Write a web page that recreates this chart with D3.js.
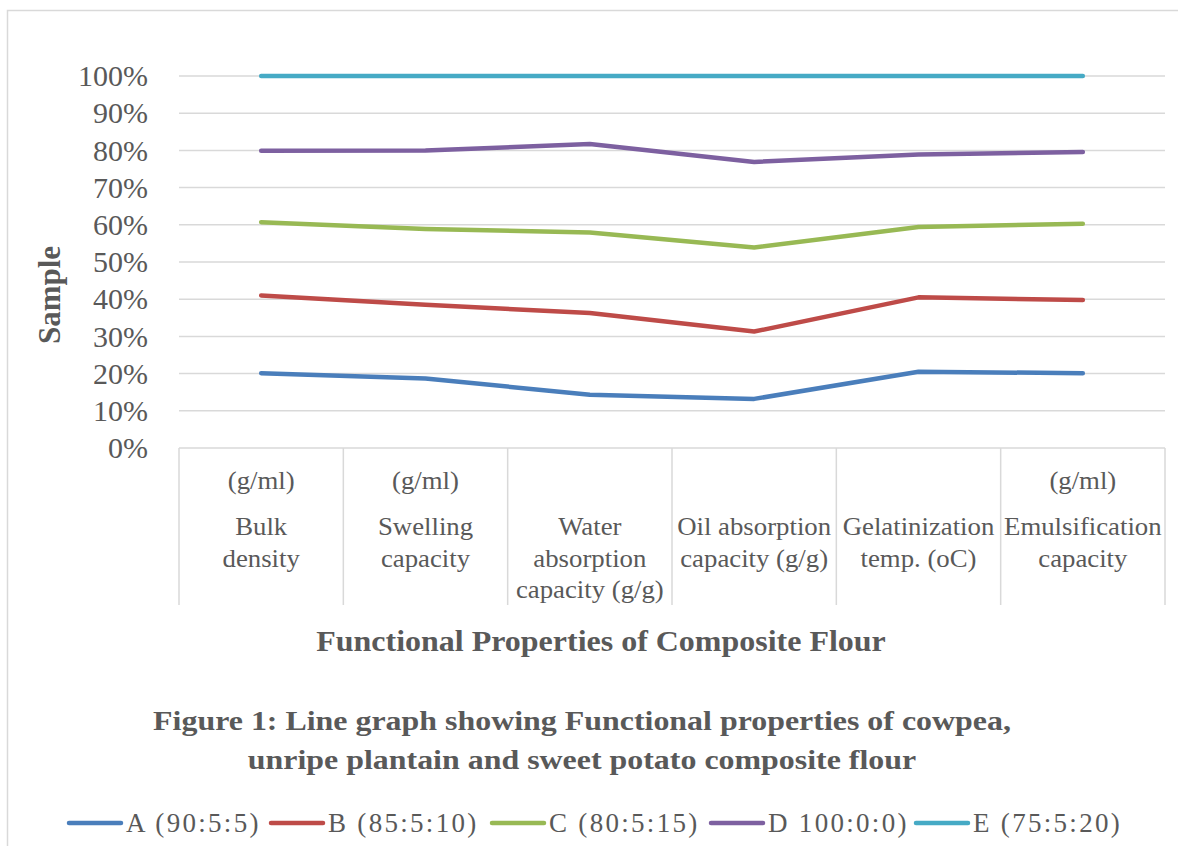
<!DOCTYPE html>
<html>
<head>
<meta charset="utf-8">
<script src="https://cdn.jsdelivr.net/npm/d3@7/dist/d3.min.js"></script>
<style>
  html, body { margin: 0; padding: 0; background: #fff; }
  svg { display: block; }
  text { font-family: "Liberation Serif", "Times New Roman", serif; fill: #595959; }
</style>
</head>
<body>
<svg id="chart" width="1178" height="846"></svg>
<script>
// ---- data ----
const categories = ["Bulk density", "Swelling capacity", "Water absorption capacity", "Oil absorption capacity", "Gelatinization temp.", "Emulsification capacity"];
const categoryLines = [
  ["Bulk", "density"],
  ["Swelling", "capacity"],
  ["Water", "absorption", "capacity (g/g)"],
  ["Oil absorption", "capacity (g/g)"],
  ["Gelatinization", "temp. (oC)"],
  ["Emulsification", "capacity"]
];
const categoryUnits = ["(g/ml)", "(g/ml)", "", "", "", "(g/ml)"];
const seriesNames = ["A (90:5:5)", "B (85:5:10)", "C (80:5:15)", "D 100:0:0)", "E (75:5:20)"];
const seriesA = [20.1, 18.7, 14.3, 13.2, 20.5, 20.1];
const seriesB = [41.0, 38.5, 36.3, 31.3, 40.5, 39.8];
const seriesC = [60.7, 58.9, 57.9, 53.9, 59.4, 60.3];
const seriesD = [79.9, 80.0, 81.7, 76.9, 78.9, 79.6];
const seriesE = [100, 100, 100, 100, 100, 100];
const yTicks = [0, 10, 20, 30, 40, 50, 60, 70, 80, 90, 100];
const colors = ["#4a7ebb", "#be4b48", "#98b954", "#7d60a0", "#46aac5"];
const yTitle = "Sample";
const xTitle = "Functional Properties of Composite Flour";
const captionLines = ["Figure 1: Line graph showing Functional properties of cowpea,", "unripe plantain and sweet potato composite flour"];

const seriesValues = [seriesA, seriesB, seriesC, seriesD, seriesE];

// ---- layout ----
const svg = d3.select("#chart");
const plot = { left: 179, right: 1165, top: 76, bottom: 448 };

// outer border (left + top)
svg.append("path")
  .attr("d", `M7.5,846 V10.5 H1178`)
  .attr("fill", "none").attr("stroke", "#d9d9d9").attr("stroke-width", 1.5);

const x = d3.scaleBand().domain(categories).range([plot.left, plot.right]).padding(0);
const y = d3.scaleLinear().domain([0, 100]).range([plot.bottom, plot.top]);

// gridlines
svg.append("g").selectAll("line").data(yTicks.filter(d => d > 0)).join("line")
  .attr("x1", plot.left).attr("x2", plot.right)
  .attr("y1", d => y(d)).attr("y2", d => y(d))
  .attr("stroke", "#d9d9d9").attr("stroke-width", 1.5);

// y axis labels
const yAxis = d3.axisLeft(y).tickValues(yTicks).tickFormat(d => d + "%").tickSize(0).tickPadding(31);
const yg = svg.append("g").attr("transform", `translate(${plot.left},0)`).call(yAxis);
yg.select(".domain").remove();
yg.selectAll("text").attr("font-size", 30).attr("fill", "#595959")
  .attr("font-family", "Liberation Serif, Times New Roman, serif");

// x axis baseline and category dividers
svg.append("line").attr("x1", plot.left).attr("x2", plot.right)
  .attr("y1", plot.bottom).attr("y2", plot.bottom)
  .attr("stroke", "#d9d9d9").attr("stroke-width", 1.5);
const boundaries = categories.map(c => x(c)).concat([x(categories[categories.length - 1]) + x.bandwidth()]);
svg.append("g").selectAll("line").data(boundaries).join("line")
  .attr("x1", d => d).attr("x2", d => d)
  .attr("y1", plot.bottom).attr("y2", 605)
  .attr("stroke", "#d9d9d9").attr("stroke-width", 1.5);

// category labels
const catG = svg.append("g");
function stretched(parent, cx, cy, sx, size, txt, bold) {
  const t = parent.append("text")
    .attr("transform", `translate(${cx},${cy}) scale(${sx},1)`)
    .attr("text-anchor", "middle").attr("font-size", size).text(txt);
  if (bold) t.attr("font-weight", "bold");
  return t;
}
categories.forEach((c, i) => {
  const cx = x(c) + x.bandwidth() / 2;
  if (categoryUnits[i]) stretched(catG, cx, 489, 1.03, 26, categoryUnits[i]);
  categoryLines[i].forEach((ln, j) => stretched(catG, cx, 535 + j * 31.5, 1.03, 26, ln));
});

// lines
const line = d3.line()
  .x((d, i) => x(categories[i]) + x.bandwidth() / 2)
  .y(d => y(d));
svg.append("g").selectAll("path").data(seriesValues).join("path")
  .attr("d", d => line(d))
  .attr("fill", "none")
  .attr("stroke", (d, i) => colors[i])
  .attr("stroke-width", 4.5)
  .attr("stroke-linecap", "round")
  .attr("stroke-linejoin", "round");

// axis titles
stretched(svg, 601, 651, 1.066, 30, xTitle, true);
svg.append("text").attr("transform", `translate(60,295) rotate(-90)`).attr("text-anchor", "middle")
  .attr("font-size", 31).attr("font-weight", "bold").text(yTitle);

// caption
captionLines.forEach((ln, i) => stretched(svg, 582, 730 + i * 39, 1.14, 28, ln, true));

// legend
const legendX = [66, 268, 489, 708, 913];
const lg = svg.append("g");
seriesNames.forEach((n, i) => {
  const g = lg.append("g").attr("transform", `translate(${legendX[i]},823)`);
  g.append("line").attr("x1", 3).attr("x2", 55).attr("y1", 0).attr("y2", 0)
    .attr("stroke", colors[i]).attr("stroke-width", 4.5).attr("stroke-linecap", "round");
  g.append("text").attr("x", 60).attr("y", 9).attr("font-size", 27)
    .attr("letter-spacing", 2.3).text(n);
});
</script>
</body>
</html>
